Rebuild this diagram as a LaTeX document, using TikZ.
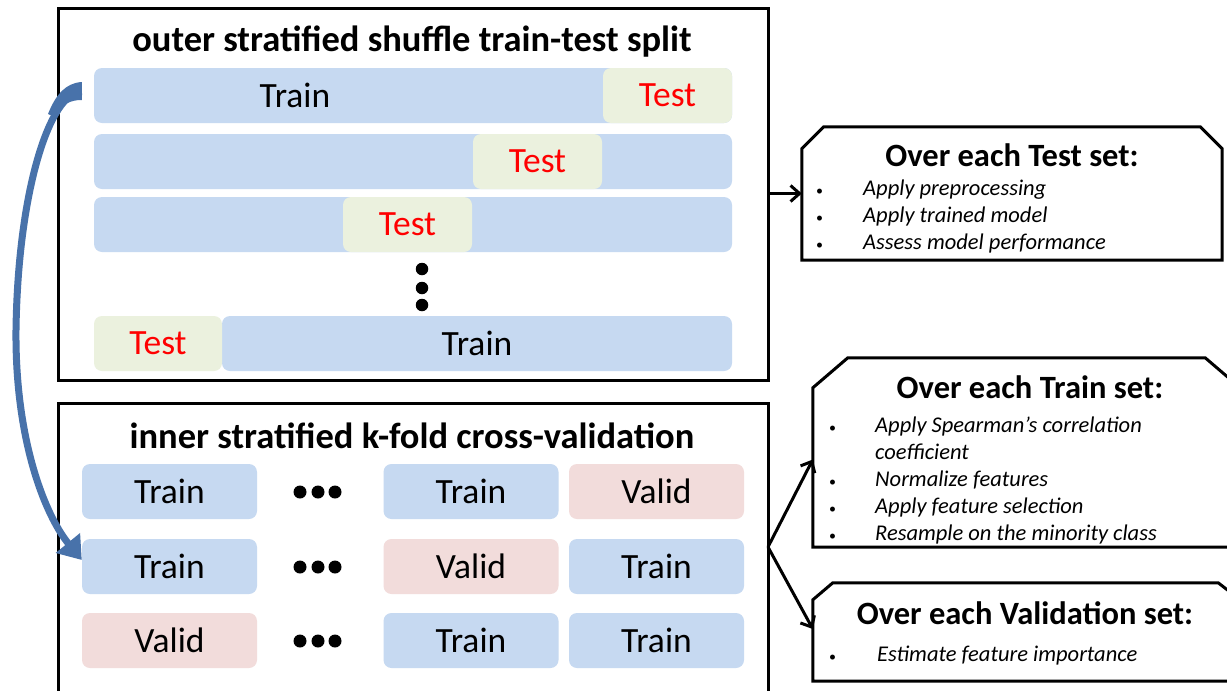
\documentclass[tikz,border=0pt]{standalone}
\usepackage{fontspec}
\setmainfont{Carlito}
\usetikzlibrary{arrows.meta}
\definecolor{trainblue}{HTML}{C6D9F1}
\definecolor{testgreen}{HTML}{EBF1DE}
\definecolor{validpink}{HTML}{F2DCDB}
\definecolor{arrowblue}{HTML}{4872AA}
\newcommand{\bul}{{\upshape\fontsize{14}{14}\selectfont\textbullet}}
\begin{document}
\begin{tikzpicture}[x=1pt,y=-1pt,
  frame/.style={draw, line width=3pt, inner sep=0pt},
  bar/.style={rounded corners=8pt, inner sep=0pt, minimum height=55pt, font=\fontsize{35.5}{40}\selectfont},
  trainbar/.style={bar, fill=trainblue},
  testbar/.style={bar, fill=testgreen, text=red},
  validbar/.style={bar, fill=validpink},
  ibar/.style={minimum width=175pt},
  maintitle/.style={font=\bfseries\fontsize{36.5}{40}\selectfont},
  rtitle/.style={font=\bfseries\fontsize{32.5}{36}\selectfont},
  items/.style={anchor=north west, inner sep=0pt, font=\itshape\fontsize{22.5}{27}\selectfont},
  dot/.style={circle, fill=black, inner sep=0pt, minimum size=12.5pt},
  hdot/.style={circle, fill=black, inner sep=0pt, minimum size=13pt},
  conn/.style={line width=3pt, -{Straight Barb[length=9pt,width=16pt,line width=3pt]}},
  rbox/.style={inner sep=0pt},
  rline/.style={line width=3pt, line join=miter}
]
\useasboundingbox (0,0) rectangle (1227,691);
\clip (0,0) rectangle (1227,691);
\fill[white] (0,0) rectangle (1227,691);

% ---------- outer split ----------
\node[frame, minimum width=710pt, minimum height=372pt] (outer) at (413,194) {};
\node[maintitle] (t1) at (412,42) {outer stratified shuffle train-test split};

\node[trainbar, minimum width=638pt] (r1) at (413,95.5) {};
\node[font=\fontsize{35.5}{40}\selectfont, inner sep=0pt] (r1t) at (295,95.5) {Train};
\node[testbar, minimum width=129pt] (r1x) at (667.5,95.5) {Test};

\node[trainbar, minimum width=638pt] (r2) at (413,161.5) {};
\node[testbar, minimum width=129pt] (r2x) at (537.5,161.5) {Test};

\node[trainbar, minimum width=638pt] (r3) at (413,224.5) {};
\node[testbar, minimum width=129pt] (r3x) at (407.5,224.5) {Test};

\node[dot] (d1) at (422,269) {};
\node[dot] (d2) at (422,288) {};
\node[dot] (d3) at (422,305) {};

\node[trainbar, minimum width=510pt] (r4) at (477,343.5) {Train};
\node[testbar, minimum width=128pt] (r4x) at (158,343.5) {Test};

% ---------- inner cv ----------
\node[frame, minimum width=710pt, minimum height=297pt] (inner) at (413,551.5) {};
\node[maintitle] (t2) at (412,436) {inner stratified k-fold cross-validation};

\node[trainbar, ibar] (a1) at (169.5,491.5) {Train};
\node[trainbar, ibar] (a2) at (471,491.5) {Train};
\node[validbar, ibar] (a3) at (656.5,491.5) {Valid};
\node[trainbar, ibar] (b1) at (169.5,566.5) {Train};
\node[validbar, ibar] (b2) at (471,566.5) {Valid};
\node[trainbar, ibar] (b3) at (656.5,566.5) {Train};
\node[validbar, ibar] (c1) at (169.5,640.5) {Valid};
\node[trainbar, ibar] (c2) at (471,640.5) {Train};
\node[trainbar, ibar] (c3) at (656.5,640.5) {Train};

\foreach \yy/\nm in {492/a, 567/b, 641/c}{
  \node[hdot] (\nm h1) at (300,\yy) {};
  \node[hdot] (\nm h2) at (318,\yy) {};
  \node[hdot] (\nm h3) at (335,\yy) {};
}

% ---------- curved arrow ----------
\coordinate (bend) at (16,330);
\fill[arrowblue] ([xshift=-12pt,yshift=13.5pt]r1.west) .. controls (66,83) and (56,94) .. (48,114)
  -- (55,117) .. controls (62,104) and (70,100) .. ([xshift=-12pt,yshift=-4.5pt]r1.west) -- cycle;
\draw[arrowblue, line width=7pt, -{Triangle[length=22pt,width=30pt]}]
  ([xshift=-12pt,yshift=4pt]r1.west) .. controls (50,92) and (18,190) .. (bend)
  .. controls (15,440) and (45,515) .. ([yshift=6.5pt]b1.west);

% ---------- right boxes ----------
\node[rbox, minimum width=420pt, minimum height=133pt] (tb) at (1012,193.5) {};
\draw[rline] (tb.south west) -- ([yshift=-22pt]tb.north west) -- ([xshift=22pt]tb.north west)
  -- ([xshift=-22pt]tb.north east) -- ([yshift=-22pt]tb.north east) -- (tb.south east) -- cycle;
\node[rtitle] (tbt) at (1012,155) {Over each Test set:};
\node[items] (tbi) at (816,176) {\begin{tabular}{@{}p{47pt}@{}l@{}}
\bul & Apply preprocessing\\
\bul & Apply trained model\\
\bul & Assess model performance
\end{tabular}};

\node[rbox, minimum width=427pt, minimum height=189pt] (tr) at (1026.5,452.5) {};
\draw[rline] (tr.south west) -- ([yshift=-30pt]tr.north west) -- ([xshift=35pt]tr.north west)
  -- ([xshift=-35pt]tr.north east) -- ([yshift=-30pt]tr.north east) -- (tr.south east) -- cycle;
\node[rtitle] (trt) at (1030,387) {Over each Train set:};
\node[items] (tri) at (829,413) {\begin{tabular}{@{}p{46pt}@{}l@{}}
\bul & Apply Spearman’s correlation\\
 & coefficient\\
\bul & Normalize features\\
\bul & Apply feature selection\\
\bul & Resample on the minority class
\end{tabular}};

\node[rbox, minimum width=427pt, minimum height=98pt] (vb) at (1026.5,632) {};
\draw[rline] (vb.south west) -- ([yshift=-17pt]vb.north west) -- ([xshift=20pt]vb.north west)
  -- ([xshift=-22pt]vb.north east) -- ([yshift=-17pt]vb.north east) -- (vb.south east) -- cycle;
\node[rtitle] (vbt) at (1025,613) {Over each Validation set:};
\node[items] (vbi) at (829,642) {\begin{tabular}{@{}p{48pt}@{}l@{}}
\bul & Estimate feature importance
\end{tabular}};

% ---------- connectors ----------
\coordinate (split) at (768,547);
\draw[conn] (outer.east |- tb.west) -- (tb.west);
\draw[conn] (split) -- ([yshift=-7pt]tr.west);
\draw[conn] (split) -- ([yshift=3pt]vb.west);
\end{tikzpicture}
\end{document}
